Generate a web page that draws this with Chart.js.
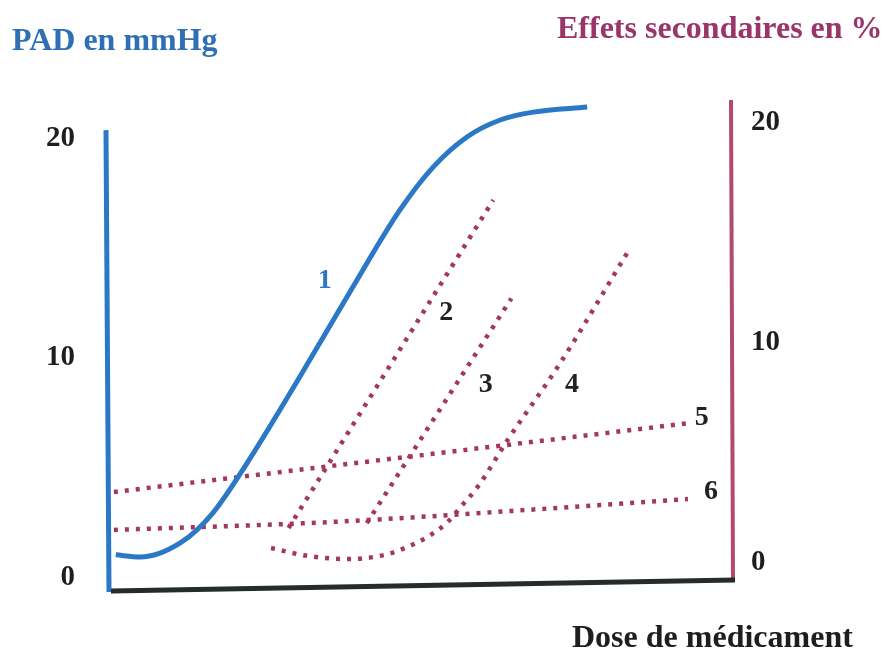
<!DOCTYPE html>
<html>
<head>
<meta charset="utf-8">
<script src="https://cdn.jsdelivr.net/npm/chart.js@4/dist/chart.umd.min.js"></script>
<style>
  html, body { margin: 0; padding: 0; background: #fff; }
  #wrap { width: 888px; height: 653px; }
</style>
</head>
<body>
<div id="wrap"><canvas id="c" width="888" height="653"></canvas></div>
<script>
// Dose (0-100, arbitrary units) and effect values for each curve
const curve1Dose = [1.4, 5.3, 11.7, 16.9, 22.4, 30.4, 38.8, 46.8, 52.1, 57.5, 62.8, 68.1, 76.7];
const curve1Pad  = [1.05, 0.95, 1.59, 2.95, 5.23, 8.95, 13.0, 16.73, 18.68, 20.05, 20.82, 21.18, 21.41];

const curve2Dose = [29.0, 61.7];
const curve2Eff  = [1.59, 16.46];

const curve3Dose = [41.5, 64.6];
const curve3Eff  = [1.81, 12.0];

const curve4Dose = [26.2, 32.1, 38.4, 44.2, 48.0, 51.7, 54.4, 56.5, 59.2, 64.0, 72.4, 83.1];
const curve4Eff  = [0.68, 0.32, 0.18, 0.36, 0.73, 1.27, 1.86, 2.54, 3.45, 5.58, 9.07, 14.06];

const curve5Dose = [1.1, 93.1];
const curve5Eff  = [3.22, 6.35];

const curve6Dose = [1.1, 35.7, 78.8, 92.8];
const curve6Eff  = [1.50, 1.86, 2.63, 2.90];

const axisTicks = [0, 10, 20];
const curveNames = ['1', '2', '3', '4', '5', '6'];

const BLUE = '#2b78c6';
const MAROON = '#a3375d';
const AXIS_MAROON = '#b24a70';
const DARK = '#262b2b';
const SERIF = '"Liberation Serif", "DejaVu Serif", serif';

const pts = (xs, ys) => xs.map((x, i) => ({ x, y: ys[i] }));

function dotted(data) {
  return {
    data, yAxisID: 'yR', borderColor: MAROON, borderWidth: 4.5,
    borderDash: [4, 7], borderCapStyle: 'butt', pointRadius: 0,
    cubicInterpolationMode: 'monotone', fill: false
  };
}

// Axis lines, titles and curve numbers
const decor = {
  id: 'decor',
  afterDatasetsDraw(chart) {
    const { ctx, chartArea: a, scales } = chart;
    const yL = scales.yL, yR = scales.yR, x = scales.x;
    ctx.save();
    ctx.lineCap = 'butt';
    // left (PAD) axis
    ctx.strokeStyle = BLUE; ctx.lineWidth = 5;
    ctx.beginPath();
    ctx.moveTo(a.left - 1, yL.getPixelForValue(20.36));
    ctx.lineTo(a.left + 2, a.bottom + 2);
    ctx.stroke();
    // right (side effects) axis
    ctx.strokeStyle = AXIS_MAROON; ctx.lineWidth = 4;
    ctx.beginPath();
    ctx.moveTo(a.right - 2, a.top);
    ctx.lineTo(a.right, a.bottom - 11);
    ctx.stroke();
    // dose axis
    ctx.strokeStyle = DARK; ctx.lineWidth = 5;
    ctx.beginPath();
    ctx.moveTo(a.left + 4, a.bottom + 1);
    ctx.lineTo(a.right + 2, a.bottom - 10);
    ctx.stroke();

    // titles
    ctx.font = 'bold 32px ' + SERIF;
    ctx.textBaseline = 'alphabetic';
    ctx.textAlign = 'left';
    ctx.fillStyle = '#2f6fb5';
    ctx.fillText('PAD en mmHg', 12, 50);
    ctx.fillStyle = '#9a3569';
    ctx.fillText('Effets secondaires en %', 557, 38);
    ctx.fillStyle = '#1e1e1e';
    ctx.fillText('Dose de médicament', 572, 647);

    // curve numbers, placed in data units
    const marks = [
      { t: curveNames[0], x: 34.8, y: 13.5, s: yL, c: BLUE },
      { t: curveNames[1], x: 54.2, y: 11.34, s: yR, c: '#222' },
      { t: curveNames[2], x: 60.5, y: 8.07, s: yR, c: '#222' },
      { t: curveNames[3], x: 74.3, y: 8.07, s: yR, c: '#222' },
      { t: curveNames[4], x: 95.0, y: 6.58, s: yR, c: '#222' },
      { t: curveNames[5], x: 96.5, y: 3.22, s: yR, c: '#222' }
    ];
    ctx.font = 'bold 28px ' + SERIF;
    ctx.textAlign = 'center';
    ctx.textBaseline = 'middle';
    marks.forEach(m => {
      ctx.fillStyle = m.c;
      ctx.fillText(m.t, x.getPixelForValue(m.x), m.s.getPixelForValue(m.y));
    });
    ctx.restore();
  }
};

const tickSet = scale => { scale.ticks = axisTicks.map(v => ({ value: v })); };

new Chart(document.getElementById('c'), {
  type: 'line',
  data: {
    datasets: [
      {
        data: pts(curve1Dose, curve1Pad), yAxisID: 'yL', borderColor: BLUE,
        borderWidth: 5, pointRadius: 0, cubicInterpolationMode: 'monotone', fill: false
      },
      dotted(pts(curve2Dose, curve2Eff)),
      dotted(pts(curve3Dose, curve3Eff)),
      dotted(pts(curve4Dose, curve4Eff)),
      dotted(pts(curve5Dose, curve5Eff)),
      dotted(pts(curve6Dose, curve6Eff))
    ]
  },
  options: {
    responsive: false,
    animation: false,
    events: [],
    layout: { padding: { top: 100, left: 0, right: 0, bottom: 0 } },
    plugins: { legend: { display: false }, tooltip: { enabled: false } },
    scales: {
      x: {
        type: 'linear', min: 0, max: 100,
        grid: { display: false }, border: { display: false },
        ticks: { display: false },
        afterFit: s => { s.height = 63; }
      },
      yL: {
        type: 'linear', position: 'left', min: -0.55, max: 21.73,
        grid: { display: false }, border: { display: false },
        afterBuildTicks: tickSet,
        ticks: { color: '#1e1e1e', padding: 24, font: { family: SERIF, size: 29, weight: 'bold' } },
        afterFit: s => { s.width = 107; }
      },
      yR: {
        type: 'linear', position: 'right', min: -1.224, max: 21.0,
        grid: { display: false }, border: { display: false },
        afterBuildTicks: tickSet,
        ticks: { color: '#1e1e1e', padding: 10, font: { family: SERIF, size: 29, weight: 'bold' } },
        afterFit: s => { s.width = 155; }
      }
    }
  },
  plugins: [decor]
});
</script>
</body>
</html>
